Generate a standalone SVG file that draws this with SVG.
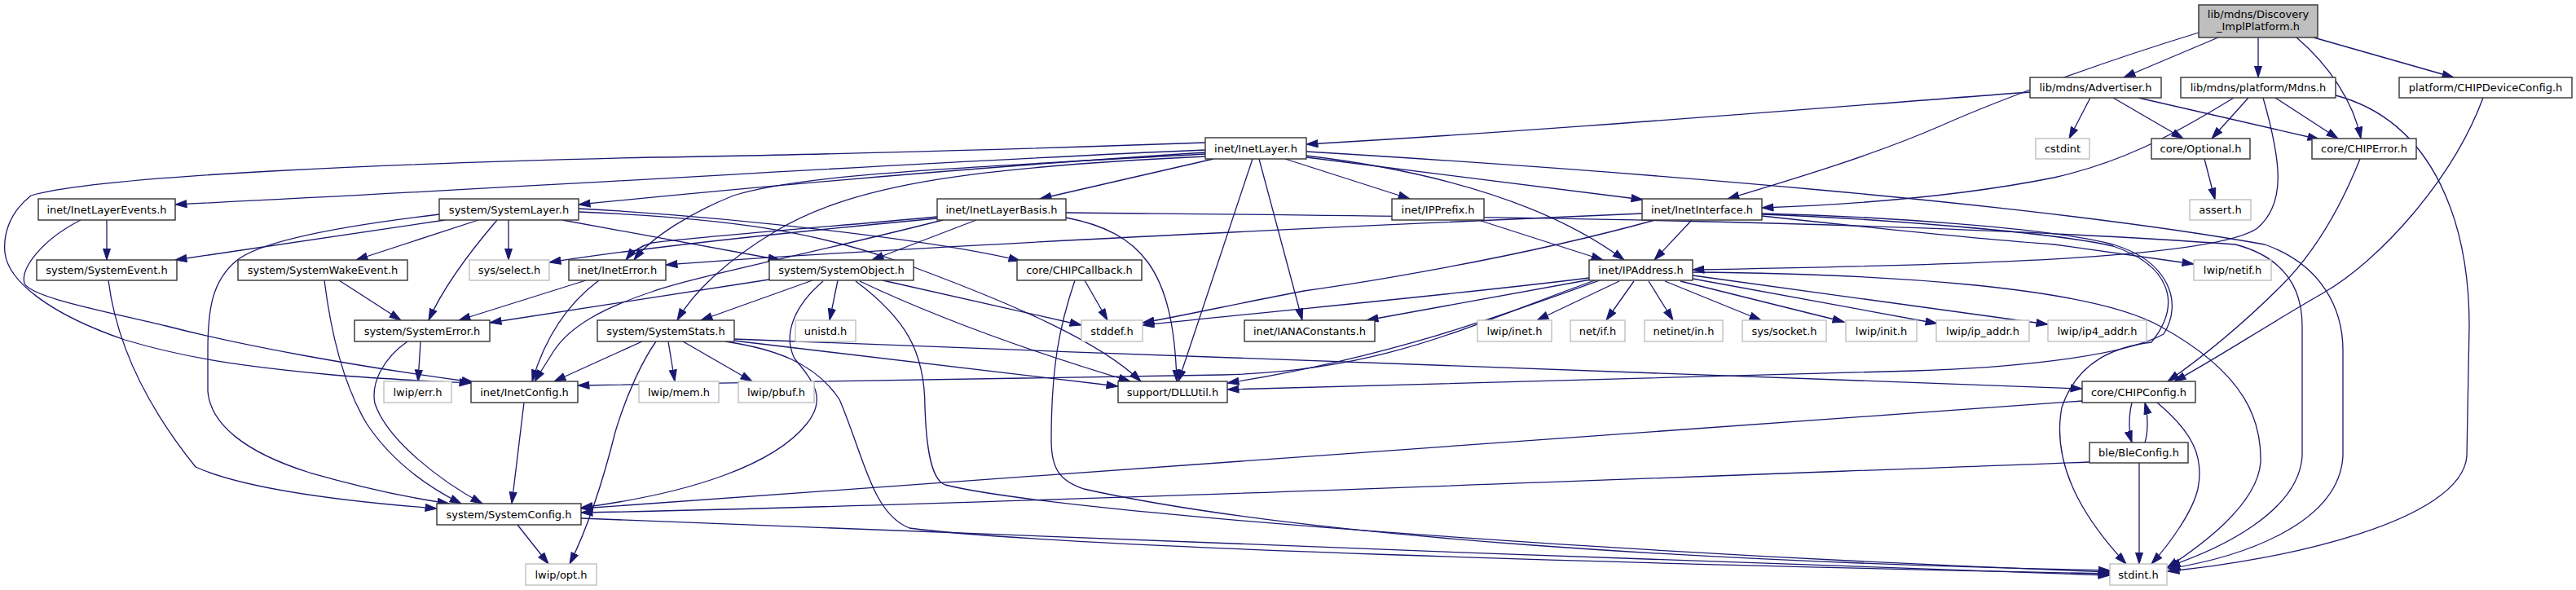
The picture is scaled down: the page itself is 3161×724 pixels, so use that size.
<svg xmlns="http://www.w3.org/2000/svg" width="3161" height="724" viewBox="0 0 3161 724">
<style>
.node rect{fill:#fff;stroke:#333;stroke-width:1.4}
.node.ext rect{stroke:#bfbfbf}
.node.root rect{fill:#bfbfbf}
.node text{font-family:"DejaVu Sans","Liberation Sans",sans-serif;font-size:13px;text-anchor:middle;fill:#000}
#edges path{fill:none;stroke:#191970;stroke-width:1.3;marker-end:url(#ah)}
</style>
<defs>
<marker id="ah" markerUnits="userSpaceOnUse" markerWidth="16" markerHeight="11" refX="14.5" refY="5" orient="auto">
<path d="M0.5,0.5 L14.5,5 L0.5,9.5 z" fill="#191970" stroke="#191970" stroke-width="1"/>
</marker>
</defs>
<rect width="3161" height="724" fill="#fff"/>
<g id="edges">
<path d="M2722,46 L2606,95"/>
<path d="M2771,46 L2771,95"/>
<path d="M2818,46 C2858,80 2888,125 2897,170"/>
<path d="M2839,46 L3011,95"/>
<path d="M2698,40 C2600,70 2470,115 2380,155 C2300,190 2200,220 2120,244"/>
<path d="M2491,113 C2200,135 1900,160 1603,177"/>
<path d="M2565,120 L2539,170"/>
<path d="M2593,120 L2679,170"/>
<path d="M2624,120 L2846,171"/>
<path d="M2759,120 L2714,170"/>
<path d="M2792,120 L2869,170"/>
<path d="M2741,120 C2660,170 2600,200 2520,218 C2420,238 2300,250 2162,255"/>
<path d="M2777,120 C2800,200 2805,250 2770,280 C2720,315 2450,325 2077,331"/>
<path d="M2866,117 C2990,150 3030,280 3030,400 L3027,560 C3020,640 2800,688 2660,701"/>
<path d="M3047,120 C3010,220 2920,320 2850,360 C2780,400 2720,440 2668,468"/>
<path d="M2896,195 C2870,260 2840,310 2800,350 C2750,400 2700,440 2660,468"/>
<path d="M2705,195 L2718,245"/>
<path d="M1479,175 C1200,185 900,192 800,193 C500,200 120,215 38,240 C10,262 4,290 6,310 C10,345 60,385 153,417 C230,440 300,450 408,460 C480,466 540,468 578,470"/>
<path d="M1479,184 C1100,200 800,222 215,251"/>
<path d="M1479,187 C1200,205 900,232 710,251"/>
<path d="M1479,189 C1150,207 980,215 900,240 C850,260 800,290 778,319"/>
<path d="M1479,192 C1200,205 1050,225 953,283 C890,320 850,360 831,393"/>
<path d="M1489,195 L1276,244"/>
<path d="M1577,195 L1730,244"/>
<path d="M1603,191 C1760,210 1900,250 1993,319"/>
<path d="M1603,193 L2016,245"/>
<path d="M1603,186 C2000,210 2500,250 2779,300 C2850,325 2875,380 2875,430 L2875,560 C2870,640 2760,682 2661,698"/>
<path d="M1545,195 L1598,393"/>
<path d="M1537,195 L1446,468"/>
<path d="M131,270 L131,319"/>
<path d="M99,270 C50,295 25,330 30,348 C40,365 120,380 204,400 C300,425 440,450 581,469"/>
<path d="M539,263 C420,277 320,295 290,320 C260,345 255,380 255,430 L255,480 C258,520 300,555 380,580 C450,600 510,612 551,618"/>
<path d="M546,270 L215,319"/>
<path d="M587,270 L437,319"/>
<path d="M610,270 C580,305 545,350 526,393"/>
<path d="M624,270 L624,319"/>
<path d="M710,256 C900,266 1150,295 1252,320"/>
<path d="M690,270 L957,319"/>
<path d="M710,260 C900,268 1000,285 1100,320 C1250,375 1350,420 1400,468"/>
<path d="M1198,270 L1070,319"/>
<path d="M1308,267 C1400,285 1440,330 1444,468"/>
<path d="M1150,266 C1000,280 860,290 800,298 C785,302 775,310 768,319"/>
<path d="M1150,268 C1000,282 800,302 674,322"/>
<path d="M1157,270 C1000,310 850,340 800,358 C740,378 700,400 680,430 L656,468"/>
<path d="M1308,261 C1700,265 2300,268 2743,300 C2800,315 2825,350 2825,400 L2825,560 C2820,630 2720,675 2661,695"/>
<path d="M2076,270 L2030,319"/>
<path d="M2015,262 C1600,280 1100,303 817,325"/>
<path d="M2031,270 C1850,320 1650,350 1600,357 C1520,372 1450,388 1402,396"/>
<path d="M2162,265 C2300,280 2450,295 2521,300 L2692,324"/>
<path d="M2162,262 C2300,265 2520,280 2593,300 C2660,320 2680,370 2655,410 C2600,440 2450,452 2350,455 L1506,478"/>
<path d="M2162,263 C2300,268 2520,285 2593,302 C2660,325 2680,370 2640,420 C2600,425 2550,440 2530,500 C2515,580 2570,650 2609,692"/>
<path d="M1814,270 L1967,319"/>
<path d="M1987,345 L1886,393"/>
<path d="M2005,345 L1971,393"/>
<path d="M2023,345 L2053,393"/>
<path d="M2043,345 L2161,393"/>
<path d="M2062,345 L2263,395"/>
<path d="M2077,342 L2377,397"/>
<path d="M2077,338 L2513,398"/>
<path d="M1950,341 C1800,360 1600,378 1402,399"/>
<path d="M1952,343 L1677,393"/>
<path d="M1963,344 C1850,385 1700,440 1506,470"/>
<path d="M1957,344 C1800,400 1700,455 1500,460 L709,473"/>
<path d="M2077,334 C2300,336 2560,350 2650,400 C2760,460 2775,520 2774,567 C2770,620 2700,670 2659,697"/>
<path d="M2616,494 C2612,510 2612,530 2616,543"/>
<path d="M2632,543 C2636,530 2636,510 2632,494"/>
<path d="M2647,494 C2690,530 2705,560 2697,600 C2690,630 2660,670 2640,692"/>
<path d="M2625,568 L2625,692"/>
<path d="M2555,492 L713,624"/>
<path d="M2564,567 C2200,580 1200,620 713,629"/>
<path d="M900,416 C1500,440 2200,462 2555,477"/>
<path d="M133,344 C140,400 165,480 240,573 C300,600 420,615 536,624"/>
<path d="M398,344 C405,400 420,470 450,520 C480,565 520,595 566,618"/>
<path d="M416,344 L492,393"/>
<path d="M500,419 C470,440 455,470 460,495 C475,540 540,590 592,618"/>
<path d="M516,419 L513,468"/>
<path d="M719,344 L563,393"/>
<path d="M735,344 C700,370 670,410 653,468"/>
<path d="M944,343 L601,396"/>
<path d="M997,344 L860,393"/>
<path d="M1028,344 L1018,393"/>
<path d="M1083,344 L1327,399"/>
<path d="M1055,345 C1150,390 1260,430 1387,468"/>
<path d="M1010,345 C975,375 960,410 975,440 C1000,470 1014,490 990,520 C950,570 850,605 713,623"/>
<path d="M1050,345 C1110,390 1135,430 1135,500 C1137,560 1145,590 1160,595 C1300,630 2000,680 2589,702"/>
<path d="M1331,344 L1359,393"/>
<path d="M1319,344 C1300,400 1290,450 1290,540 C1290,575 1300,590 1330,600 C1600,660 2100,690 2589,700"/>
<path d="M788,419 L680,468"/>
<path d="M820,419 L828,468"/>
<path d="M838,419 L923,468"/>
<path d="M805,419 C790,440 770,480 755,530 C740,590 720,650 699,692"/>
<path d="M900,418 L1372,474"/>
<path d="M890,419 C950,428 1000,445 1030,490 C1060,560 1070,630 1116,648 C1300,672 2000,692 2589,704"/>
<path d="M643,494 L628,618"/>
<path d="M635,644 L673,692"/>
<path d="M713,636 C1100,650 2000,688 2589,706"/>
</g>
<g id="n0" class="node root"><rect x="2698" y="6" width="146" height="40"/><text x="2771" y="22">lib/mdns/Discovery</text><text x="2771" y="37">_ImplPlatform.h</text></g>
<g id="n1" class="node"><rect x="2491" y="95" width="161" height="25"/><text x="2571.5" y="112">lib/mdns/Advertiser.h</text></g>
<g id="n2" class="node"><rect x="2676" y="95" width="190" height="25"/><text x="2771" y="112">lib/mdns/platform/Mdns.h</text></g>
<g id="n3" class="node"><rect x="2944" y="95" width="212" height="25"/><text x="3050" y="112">platform/CHIPDeviceConfig.h</text></g>
<g id="n4" class="node ext"><rect x="2498" y="170" width="66" height="25"/><text x="2531" y="187">cstdint</text></g>
<g id="n5" class="node"><rect x="2640" y="170" width="121" height="25"/><text x="2700.5" y="187">core/Optional.h</text></g>
<g id="n6" class="node"><rect x="2837" y="170" width="128" height="25"/><text x="2901" y="187">core/CHIPError.h</text></g>
<g id="n7" class="node"><rect x="1479" y="169" width="124" height="26"/><text x="1541" y="186.5">inet/InetLayer.h</text></g>
<g id="n8" class="node ext"><rect x="2687" y="245" width="75" height="25"/><text x="2724.5" y="262">assert.h</text></g>
<g id="n9" class="node"><rect x="47" y="244" width="168" height="26"/><text x="131" y="261.5">inet/InetLayerEvents.h</text></g>
<g id="n10" class="node"><rect x="539" y="244" width="171" height="26"/><text x="624.5" y="261.5">system/SystemLayer.h</text></g>
<g id="n11" class="node"><rect x="1150" y="244" width="158" height="26"/><text x="1229" y="261.5">inet/InetLayerBasis.h</text></g>
<g id="n12" class="node"><rect x="1708" y="244" width="113" height="26"/><text x="1764.5" y="261.5">inet/IPPrefix.h</text></g>
<g id="n13" class="node"><rect x="2015" y="244" width="147" height="26"/><text x="2088.5" y="261.5">inet/InetInterface.h</text></g>
<g id="n14" class="node"><rect x="45" y="319" width="172" height="25"/><text x="131" y="336">system/SystemEvent.h</text></g>
<g id="n15" class="node"><rect x="292" y="319" width="208" height="25"/><text x="396" y="336">system/SystemWakeEvent.h</text></g>
<g id="n16" class="node ext"><rect x="576" y="319" width="98" height="25"/><text x="625" y="336">sys/select.h</text></g>
<g id="n17" class="node"><rect x="698" y="319" width="119" height="25"/><text x="757.5" y="336">inet/InetError.h</text></g>
<g id="n18" class="node"><rect x="944" y="319" width="177" height="25"/><text x="1032.5" y="336">system/SystemObject.h</text></g>
<g id="n19" class="node"><rect x="1248" y="319" width="153" height="25"/><text x="1324.5" y="336">core/CHIPCallback.h</text></g>
<g id="n20" class="node"><rect x="1950" y="319" width="127" height="25"/><text x="2013.5" y="336">inet/IPAddress.h</text></g>
<g id="n21" class="node ext"><rect x="2692" y="319" width="95" height="25"/><text x="2739.5" y="336">lwip/netif.h</text></g>
<g id="n22" class="node"><rect x="435" y="393" width="166" height="26"/><text x="518" y="410.5">system/SystemError.h</text></g>
<g id="n23" class="node"><rect x="733" y="393" width="168" height="26"/><text x="817" y="410.5">system/SystemStats.h</text></g>
<g id="n24" class="node ext"><rect x="976" y="393" width="74" height="26"/><text x="1013" y="410.5">unistd.h</text></g>
<g id="n25" class="node ext"><rect x="1327" y="393" width="75" height="26"/><text x="1364.5" y="410.5">stddef.h</text></g>
<g id="n26" class="node"><rect x="1527" y="393" width="160" height="26"/><text x="1607" y="410.5">inet/IANAConstants.h</text></g>
<g id="n27" class="node ext"><rect x="1813" y="393" width="91" height="26"/><text x="1858.5" y="410.5">lwip/inet.h</text></g>
<g id="n28" class="node ext"><rect x="1927" y="393" width="67" height="26"/><text x="1960.5" y="410.5">net/if.h</text></g>
<g id="n29" class="node ext"><rect x="2018" y="393" width="96" height="26"/><text x="2066" y="410.5">netinet/in.h</text></g>
<g id="n30" class="node ext"><rect x="2138" y="393" width="103" height="26"/><text x="2189.5" y="410.5">sys/socket.h</text></g>
<g id="n31" class="node ext"><rect x="2265" y="393" width="87" height="26"/><text x="2308.5" y="410.5">lwip/init.h</text></g>
<g id="n32" class="node ext"><rect x="2376" y="393" width="114" height="26"/><text x="2433" y="410.5">lwip/ip_addr.h</text></g>
<g id="n33" class="node ext"><rect x="2513" y="393" width="121" height="26"/><text x="2573.5" y="410.5">lwip/ip4_addr.h</text></g>
<g id="n34" class="node ext"><rect x="471" y="468" width="83" height="26"/><text x="512.5" y="485.5">lwip/err.h</text></g>
<g id="n35" class="node"><rect x="578" y="468" width="131" height="26"/><text x="643.5" y="485.5">inet/InetConfig.h</text></g>
<g id="n36" class="node ext"><rect x="784" y="468" width="98" height="26"/><text x="833" y="485.5">lwip/mem.h</text></g>
<g id="n37" class="node ext"><rect x="906" y="468" width="93" height="26"/><text x="952.5" y="485.5">lwip/pbuf.h</text></g>
<g id="n38" class="node"><rect x="1372" y="468" width="134" height="26"/><text x="1439" y="485.5">support/DLLUtil.h</text></g>
<g id="n39" class="node"><rect x="2555" y="468" width="139" height="26"/><text x="2624.5" y="485.5">core/CHIPConfig.h</text></g>
<g id="n40" class="node"><rect x="2564" y="543" width="121" height="25"/><text x="2624.5" y="560">ble/BleConfig.h</text></g>
<g id="n41" class="node"><rect x="536" y="618" width="177" height="26"/><text x="624.5" y="635.5">system/SystemConfig.h</text></g>
<g id="n42" class="node ext"><rect x="645" y="692" width="87" height="26"/><text x="688.5" y="709.5">lwip/opt.h</text></g>
<g id="n43" class="node ext"><rect x="2589" y="692" width="70" height="26"/><text x="2624" y="709.5">stdint.h</text></g>
</svg>
